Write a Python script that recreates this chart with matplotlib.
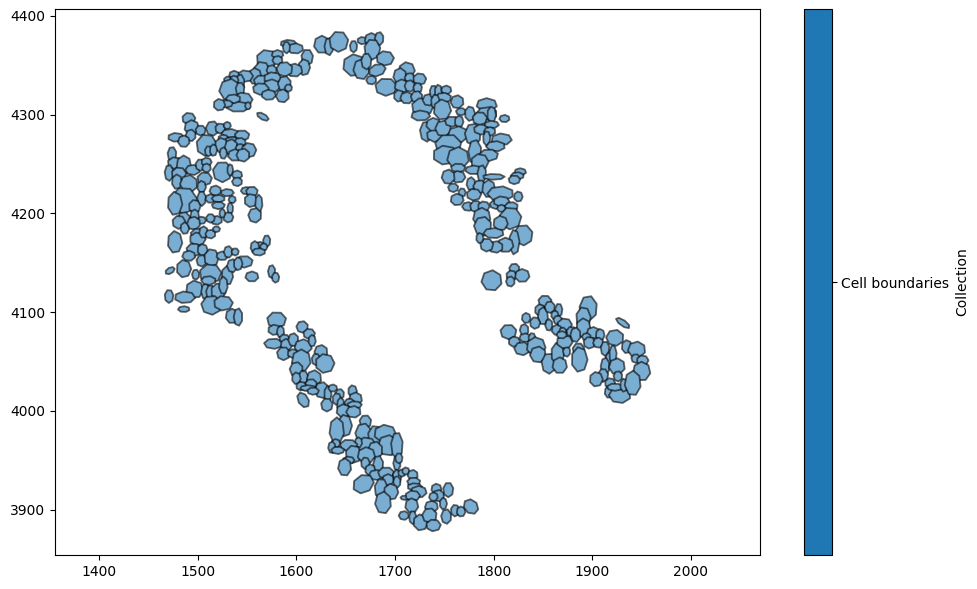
import matplotlib
matplotlib.use('Agg')
import matplotlib.pyplot as plt
from matplotlib.collections import PatchCollection
from matplotlib.colors import ListedColormap
from matplotlib.patches import PathPatch
from matplotlib.path import Path
from matplotlib.transforms import Affine2D
from matplotlib.cm import ScalarMappable

# cells: x, y, width, height, (angle)
top_arc = [(1626,4371,11,12),(1633,4369,6,12),(1643,4374,13,14),(1592,4372,11,5),(1599,4367,11,7),(1590,4368,5,8),
 (1570,4356,14,13),(1581,4361,8,6),(1581,4355,7,6),(1611,4358,8,11),(1608,4348,8,11),(1598,4345,11,9),(1588,4346,11,10),
 (1565,4344,11,13),(1558,4339,9,11),(1575,4345,7,7),(1565,4334,11,8),(1576,4337,12,8),(1575,4329,12,9),(1588,4331,9,11),
 (1564,4326,11,8),(1572,4320,10,7),(1586,4319,9,9),(1592,4327,5,5),(1548,4339,11,8),(1537,4340,7,6),(1543,4332,6,12),
 (1531,4335,6,5),(1537,4335,6,6),(1533,4325,15,15),(1543,4326,6,9),(1546,4315,13,10),(1541,4308,16,7),(1536,4316,10,6),
 (1529,4311,9,5),(1522,4310,8,8),(1551,4309,4,5),(1566,4298,9,4,-30)]
upper_left = [(1491,4296,9,8),(1494,4287,10,10),(1493,4279,7,8),(1503,4284,7,7),(1478,4277,11,6),(1486,4273,8,8),
 (1515,4286,9,10),(1523,4286,7,7),(1530,4289,5,5),(1533,4281,12,6),(1545,4279,10,7),(1526,4276,7,5),(1535,4273,11,6),
 (1543,4272,8,6),(1509,4269,14,15),(1524,4269,9,10),(1534,4267,9,11),(1543,4266,6,6),(1552,4264,10,10),(1538,4259,10,8),
 (1546,4259,9,9),(1511,4263,5,7),(1516,4264,5,8),(1526,4261,5,8),(1474,4260,6,10),(1477,4251,10,8),(1486,4249,10,13),
 (1495,4244,10,7),(1503,4249,7,8),(1509,4252,7,6),(1509,4246,6,6)]
left_band = [(1471,4241,6,11),(1481,4240,10,9),(1479,4232,7,10),(1491,4230,12,12),(1525,4242,13,14),(1533,4244,4,8),
 (1540,4239,7,6),(1540,4232,7,6),(1507,4235,10,9),(1504,4227,6,8),(1549,4223,7,5),(1555,4222,8,7),(1554,4213,9,9),
 (1562,4210,5,12),(1558,4198,9,10),(1486,4213,18,18),(1477,4210,10,16),(1518,4223,8,7),(1504,4215,6,10),(1497,4207,8,9),
 (1513,4215,7,6),(1521,4215,9,5),(1521,4208,9,5),(1530,4221,9,5),(1535,4214,5,5),(1533,4205,4,8),(1531,4196,7,7),
 (1525,4200,4,6),(1519,4193,8,6),(1513,4195,6,6),(1504,4193,6,5),(1497,4198,6,8),(1486,4194,9,10),(1481,4191,9,9),
 (1487,4185,6,8),(1496,4190,9,9),(1501,4179,11,8),(1500,4174,11,9),(1506,4181,6,8),(1513,4179,7,6),(1519,4184,5,4)]
lower_left = [(1477,4171,10,15),(1563,4166,8,7),(1570,4172,5,8),(1567,4166,5,5),(1558,4166,6,8),(1562,4161,9,5),
 (1496,4163,10,9),(1505,4163,7,8),(1491,4157,9,7),(1504,4152,7,8),(1514,4155,10,12),(1525,4157,8,6),(1531,4161,6,8),
 (1538,4161,5,5),(1486,4144,10,12),(1472,4142,7,4,30),(1498,4138,5,7),(1513,4139,15,13),(1530,4137,8,13),(1535,4147,7,9),
 (1547,4151,12,8),(1541,4149,6,9),(1555,4136,9,7),(1575,4141,5,9),(1579,4135,5,7),(1497,4123,12,12),(1508,4121,6,11),
 (1513,4120,6,10),(1521,4121,10,11),(1526,4127,6,12),(1511,4132,10,6),(1471,4116,6,9),(1487,4115,14,8),(1486,4103,8,4),
 (1514,4107,14,13),(1526,4109,13,10),(1535,4096,9,10),(1541,4095,6,12)]
centre_strip = [(1580,4092,13,11),(1578,4082,9,7),(1584,4080,5,8),(1577,4068,13,7),(1588,4073,7,6),(1590,4067,8,8),
 (1597,4072,7,9),(1587,4058,9,9),(1597,4058,8,6),(1607,4065,12,10),(1606,4085,8,8),(1613,4078,8,7),(1616,4071,5,8),
 (1625,4060,9,9),(1620,4052,6,8),(1629,4048,13,13),(1605,4051,13,15),(1600,4042,9,10),(1607,4034,7,9),(1600,4033,6,8),
 (1618,4033,10,11),(1615,4027,8,7),(1605,4025,7,6),(1612,4023,11,4),(1626,4021,10,11),(1617,4020,8,5),(1632,4017,5,11),
 (1637,4023,6,5),(1644,4017,6,7),(1641,4012,6,8),(1645,4006,5,10),(1607,4011,7,11,30),(1631,4006,8,9),(1657,4020,6,8),
 (1660,4012,9,9),(1654,4008,7,6),(1659,4006,10,5),(1648,4000,10,9),(1658,3999,10,8)]
bottom_strip = [(1670,3989,8,9),(1649,3985,10,15),(1641,3980,10,18),(1668,3977,11,14),(1680,3974,10,15),(1690,3977,15,12),
 (1693,3965,14,14),(1702,3965,8,18),(1671,3965,13,11),(1663,3968,5,7),(1680,3960,10,12),(1653,3965,12,8),(1640,3967,6,6),
 (1636,3963,5,8),(1642,3960,9,5),(1658,3956,11,12),(1671,3955,12,11),(1702,3947,5,10),(1704,3952,5,7),(1653,3950,8,5),
 (1649,3943,9,12),(1683,3945,7,13),(1670,3947,6,8),(1675,3940,7,8),(1681,3935,10,7),(1691,3937,11,8),(1702,3933,6,10),
 (1693,3930,8,8),(1702,3928,5,8),(1707,3937,5,5),(1711,3939,5,5),(1718,3935,7,7),(1719,3928,9,6),(1720,3923,10,5),
 (1724,3918,11,8),(1668,3926,15,12,30),(1686,3921,9,14),(1696,3918,10,11),(1688,3907,11,15),(1710,3912,6,3),(1718,3914,10,7),
 (1717,3904,9,10),(1709,3894,7,6),(1718,3892,5,9),(1726,3887,10,11),(1737,3903,9,8),(1735,3894,10,10),(1739,3884,10,8),
 (1742,3921,7,7),(1744,3914,8,8),(1754,3920,7,10),(1749,3906,5,8),(1739,3913,6,6),(1752,3893,7,10),(1761,3899,6,8),
 (1767,3898,6,7),(1777,3903,11,9,-45)]
right_arc = [(1658,4369,5,8),(1667,4375,7,5),(1676,4376,9,9),(1684,4377,6,9),(1677,4366,11,14),(1659,4350,16,15),
 (1666,4346,11,14),(1671,4354,7,11),(1690,4357,12,10),(1682,4345,12,8,20),(1676,4335,7,6),(1691,4328,15,12),(1712,4345,11,11),
 (1705,4339,9,11),(1715,4337,7,7),(1725,4336,9,8),(1707,4329,10,9),(1715,4329,7,8),(1723,4327,6,7),(1704,4319,7,8),
 (1712,4317,9,8),(1722,4318,8,8),(1728,4308,15,12),(1726,4299,13,7),(1734,4315,8,8),(1739,4323,5,9),(1744,4323,5,10),
 (1752,4325,7,6),(1749,4317,11,7),(1741,4313,6,10),(1748,4305,12,14),(1763,4313,9,9),(1767,4303,7,5),(1776,4301,7,10),
 (1793,4310,14,9),(1793,4301,14,9),(1786,4296,10,9),(1798,4300,6,11),(1811,4296,7,5),(1732,4283,9,14),(1741,4279,12,9),
 (1739,4290,10,9),(1749,4286,11,11),(1758,4293,10,7),(1765,4293,6,8),(1764,4280,14,11),(1779,4280,11,15),(1788,4285,11,7),
 (1798,4290,10,5),(1796,4283,8,6),(1754,4269,18,15),(1751,4259,17,13),(1764,4256,15,15),(1781,4262,9,17),(1793,4276,5,10),
 (1808,4275,14,8),(1802,4268,13,7),(1795,4259,13,8)]
right_band = [(1786,4252,12,11),(1780,4244,12,6),(1788,4240,6,12),(1764,4246,10,6),(1764,4237,10,8),(1754,4237,9,10),
 (1759,4226,7,6),(1800,4237,15,4),(1827,4242,8,5),(1824,4238,9,5),(1821,4234,8,6),(1825,4217,6,7),(1777,4230,6,9),
 (1786,4227,9,9),(1780,4219,10,8),(1795,4225,9,12),(1807,4220,18,10),(1802,4209,8,6),(1808,4212,11,7),(1808,4205,6,5),
 (1818,4207,9,6),(1768,4221,5,6),(1763,4214,9,8),(1774,4207,8,6),(1782,4207,8,8),(1790,4207,8,7),(1788,4196,12,13),
 (1789,4187,12,13),(1817,4195,15,15),(1807,4190,10,10),(1800,4180,14,7),(1830,4178,13,14),(1821,4171,7,17),(1812,4168,11,10),
 (1802,4166,10,8),(1793,4168,9,9),(1786,4175,5,7),(1798,4132,14,14),(1821,4144,7,7),(1818,4137,7,7),(1829,4137,10,9),(1817,4131,6,7)]
right_cluster = [(1852,4111,9,8),(1847,4102,7,8),(1850,4096,7,12),(1857,4105,7,8),(1842,4089,7,8),(1833,4094,6,7),(1831,4082,6,8),
 (1815,4080,11,10),(1821,4070,8,7),(1832,4074,8,6),(1829,4063,11,9),(1839,4073,5,8),(1843,4065,13,13),(1845,4057,11,11),
 (1856,4048,10,14),(1865,4058,9,15),(1867,4046,10,11),(1874,4060,5,7),(1866,4102,5,9),(1862,4097,5,6),(1856,4087,5,8),
 (1865,4092,6,6),(1872,4087,10,9),(1864,4082,7,7),(1870,4080,5,6),(1879,4080,7,7),(1872,4070,11,9),(1869,4077,7,5),
 (1896,4104,12,17),(1891,4094,10,15),(1891,4084,10,13),(1883,4077,7,10),(1886,4062,8,9),(1887,4052,11,17),(1901,4079,9,8),
 (1894,4075,6,5),(1897,4069,8,8),(1908,4077,6,8),(1906,4069,7,7),(1913,4063,6,10),(1917,4052,5,10),(1931,4089,11,4,-35),
 (1923,4074,12,11),(1921,4057,5,13),(1935,4065,7,9),(1945,4062,12,11),(1944,4053,6,6),(1951,4051,8,7),(1950,4040,12,13),
 (1913,4045,6,12),(1911,4036,7,9),(1904,4032,9,10),(1925,4045,11,11),(1926,4035,6,7),(1918,4028,7,7),(1917,4019,6,8),
 (1928,4016,15,11),(1923,4024,11,5),(1932,4026,5,9),(1941,4028,11,17)]

regions = [top_arc, upper_left, left_band, lower_left, centre_strip, bottom_strip, right_arc, right_band, right_cluster]

x_ticks = [1400, 1500, 1600, 1700, 1800, 1900, 2000]
y_ticks = [3900, 4000, 4100, 4200, 4300, 4400]
collection_names = ['Cell boundaries']

fig = plt.figure(figsize=(9.78, 5.89), dpi=100)
ax = fig.add_axes([55/978, 34/589, 705/978, 546/589])
cax = fig.add_axes([804.3/978, 34/589, 27.4/978, 546/589])

# each cell is a heptagon turned a bit differently, so they don't look like circles
hept = Path.unit_regular_polygon(7)
patches = []
i = 0
for region in regions:
    for x, y, w, h, *angle in region:
        t = (Affine2D().rotate_deg(i * 37).scale(w * 0.75, h * 0.75)
             .rotate_deg(angle[0] if angle else 0).translate(x, y))
        patches.append(PathPatch(hept.transformed(t)))
        i += 1
cells = PatchCollection(patches, facecolor='#79add2', edgecolor=(0, 0, 0, 0.6),
                        linewidth=1.3, joinstyle='round')
ax.add_collection(cells)

ax.set_xlim(1355.4, 2070)
ax.set_ylim(3854, 4407)
ax.set_xticks(x_ticks)
ax.set_yticks(y_ticks)

sm = ScalarMappable(cmap=ListedColormap(['tab:blue']))
sm.set_clim(0, 1)
cb = fig.colorbar(sm, cax=cax)
cb.set_ticks([0.5])
cb.set_ticklabels(collection_names)
cb.set_label('Collection')

fig.savefig('out.png', dpi=100)
